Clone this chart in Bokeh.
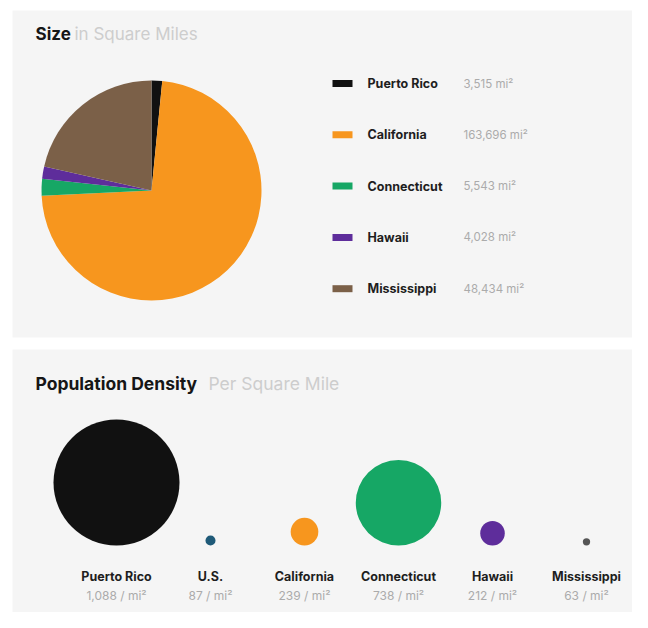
import math
from bokeh.plotting import figure
from bokeh.models import Range1d
from bokeh.core.properties import value
from bokeh.embed import file_html
from bokeh.resources import INLINE

# ---- data ----
size_names = ["Puerto Rico", "California", "Connecticut", "Hawaii", "Mississippi"]
size_values = [3515, 163696, 5543, 4028, 48434]
size_labels = ["3,515 mi²", "163,696 mi²", "5,543 mi²", "4,028 mi²", "48,434 mi²"]
size_colors = ["#111111", "#F7961E", "#16A765", "#5E2D9B", "#7B6048"]

dens_names = ["Puerto Rico", "U.S.", "California", "Connecticut", "Hawaii", "Mississippi"]
dens_values = [1088, 87, 239, 738, 212, 63]
dens_labels = ["1,088 / mi²", "87 / mi²", "239 / mi²", "738 / mi²", "212 / mi²", "63 / mi²"]
dens_colors = ["#111111", "#1F5A78", "#F7961E", "#16A765", "#5E2D9B", "#555555"]

W, H = 632, 612
FONT = value("Inter")

def Y(py):
    return H - py

p = figure(width=W, height=H, output_backend="svg", toolbar_location=None,
           x_range=Range1d(0, W), y_range=Range1d(0, H),
           min_border=0, outline_line_color=None,
           x_axis_location=None, y_axis_location=None,
           background_fill_color="white", border_fill_color="white")
p.xgrid.visible = False
p.ygrid.visible = False

# cards
p.quad(left=[12, 12], right=[632, 632], top=[Y(10), Y(349)], bottom=[Y(337), Y(612)],
       fill_color="#F5F5F5", line_color=None)

# titles
p.text(x=[35], y=[Y(33)], text=["Size"], text_font=FONT, text_font_style="bold",
       text_font_size="17px", text_color="#161616", text_baseline="middle")
p.text(x=[74], y=[Y(33)], text=["in Square Miles"], text_font=FONT,
       text_font_size="17px", text_color="#CDCDCD", text_baseline="middle")
p.text(x=[35], y=[Y(383)], text=["Population Density"], text_font=FONT, text_font_style="bold",
       text_font_size="17.5px", text_color="#161616", text_baseline="middle")
p.text(x=[208], y=[Y(383)], text=["Per Square Mile"], text_font=FONT,
       text_font_size="17.5px", text_color="#CDCDCD", text_baseline="middle")

# pie
total = sum(size_values)
cx, cy, R = 151, Y(190), 110
cum = 0.0
starts, ends = [], []
for v in size_values:
    a0 = math.pi / 2 - 2 * math.pi * cum / total
    cum += v
    a1 = math.pi / 2 - 2 * math.pi * cum / total
    starts.append(a0)
    ends.append(a1)
p.wedge(x=[cx] * len(size_values), y=[cy] * len(size_values), radius=R,
        start_angle=starts, end_angle=ends, direction="clock",
        fill_color=size_colors, line_color=None)

# legend
rows_y = [Y(83 + i * 51.3) for i in range(len(size_names))]
p.rect(x=[342] * 5, y=rows_y, width=20, height=7, fill_color=size_colors, line_color=None)
p.text(x=[367] * 5, y=rows_y, text=size_names, text_font=FONT, text_font_style="bold",
       text_font_size="12.5px", text_color="#1E1E1E", text_baseline="middle")
p.text(x=[463] * 5, y=rows_y, text=size_labels, text_font=FONT,
       text_font_size="11.5px", text_color="#ABABAB", text_baseline="middle")

# bubbles
col_x = [116 + i * 94 for i in range(len(dens_names))]
scale = 126.0 / max(dens_values)
radii = [v * scale / 2 for v in dens_values]
base = Y(545)
p.circle(x=col_x, y=[base + r for r in radii], radius=radii,
         fill_color=dens_colors, line_color=None)
p.text(x=col_x, y=[Y(576)] * 6, text=dens_names, text_font=FONT, text_font_style="bold",
       text_font_size="12.5px", text_color="#1E1E1E", text_baseline="middle", text_align="center")
p.text(x=col_x, y=[Y(595)] * 6, text=dens_labels, text_font=FONT,
       text_font_size="12px", text_color="#ABABAB", text_baseline="middle", text_align="center")

open("out.html", "w").write(file_html(p, INLINE))
